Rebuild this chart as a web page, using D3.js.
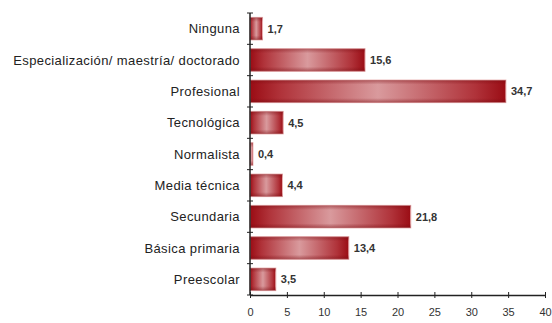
<!DOCTYPE html>
<html><head><meta charset="utf-8">
<script src="https://cdn.jsdelivr.net/npm/d3@7"></script>
<style>body{margin:0;background:#fff}svg{display:block}</style>
</head><body>
<script>
const categories = ["Ninguna","Especialización/ maestría/ doctorado","Profesional","Tecnológica","Normalista","Media técnica","Secundaria","Básica primaria","Preescolar"];
const values = [1.7,15.6,34.7,4.5,0.4,4.4,21.8,13.4,3.5];
const valueLabels = ["1,7","15,6","34,7","4,5","0,4","4,4","21,8","13,4","3,5"];
const xTicks = [0,5,10,15,20,25,30,35,40];

const W=552,H=323;
const svg=d3.select("body").append("svg").attr("width",W).attr("height",H);
const x=d3.scaleLinear().domain([0,40]).range([250,545]);
const y=d3.scaleBand().domain(categories).range([13,295]).paddingInner(0.28).paddingOuter(0.14);

const defs=svg.append("defs");
const g1=defs.append("linearGradient").attr("id","hg").attr("x1","0").attr("x2","1").attr("y1","0").attr("y2","0");
[[0,"#9a0c14"],[0.12,"#b0333a"],[0.5,"#d99a9d"],[0.88,"#b0333a"],[1,"#9a0c14"]].forEach(s=>g1.append("stop").attr("offset",s[0]).attr("stop-color",s[1]));
const g2=defs.append("linearGradient").attr("id","vg").attr("x1","0").attr("x2","0").attr("y1","0").attr("y2","1");
[[0,"#7a0a10",0.45],[0.2,"#7a0a10",0.0],[0.8,"#7a0a10",0.0],[1,"#7a0a10",0.5]].forEach(s=>g2.append("stop").attr("offset",s[0]).attr("stop-color",s[1]).attr("stop-opacity",s[2]));

const bars=svg.append("g").selectAll("g").data(categories).join("g");
bars.append("rect").attr("x",x(0)).attr("y",d=>y(d)).attr("width",(d,i)=>x(values[i])-x(0)).attr("height",y.bandwidth())
  .attr("fill","url(#hg)").attr("stroke","#e9b3b4").attr("stroke-width",1);
bars.append("rect").attr("x",x(0)).attr("y",d=>y(d)).attr("width",(d,i)=>x(values[i])-x(0)).attr("height",y.bandwidth())
  .attr("fill","url(#vg)");
bars.append("text").attr("x",(d,i)=>x(values[i])+5).attr("y",d=>y(d)+y.bandwidth()/2).attr("dy","0.35em")
  .attr("font-family","Liberation Sans, Arial, sans-serif").attr("font-size",11).attr("font-weight","bold").attr("fill","#333")
  .text((d,i)=>valueLabels[i]);

// y axis
const ya=svg.append("g");
ya.append("line").attr("x1",250).attr("x2",250).attr("y1",13).attr("y2",295).attr("stroke","#222").attr("stroke-width",1.5);
const bounds=[13].concat(categories.map(c=>y(c)+y.bandwidth()+y.step()*y.paddingInner()/2));
ya.selectAll("line.t").data(bounds).join("line").attr("class","t").attr("x1",247).attr("x2",253).attr("y1",d=>d).attr("y2",d=>d).attr("stroke","#222");
ya.selectAll("text").data(categories).join("text").attr("x",240).attr("y",d=>y(d)+y.bandwidth()/2).attr("dy","0.35em")
  .attr("text-anchor","end").attr("font-family","Liberation Sans, Arial, sans-serif").attr("font-size",13).attr("letter-spacing",0.4).attr("fill","#222").text(d=>d);

// x axis
const xa=svg.append("g").attr("transform","translate(0,295)")
  .call(d3.axisBottom(x).tickValues(xTicks).tickSize(3).tickSizeOuter(0).tickFormat(d3.format("d")));
xa.select(".domain").attr("stroke","#222").attr("stroke-width",1.5);
xa.selectAll(".tick line").attr("stroke","#222").attr("y1",-3).attr("y2",3);
xa.selectAll(".tick text").attr("font-family","Liberation Sans, Arial, sans-serif").attr("font-size",11).attr("fill","#333").attr("y",13);
</script>
</body></html>
